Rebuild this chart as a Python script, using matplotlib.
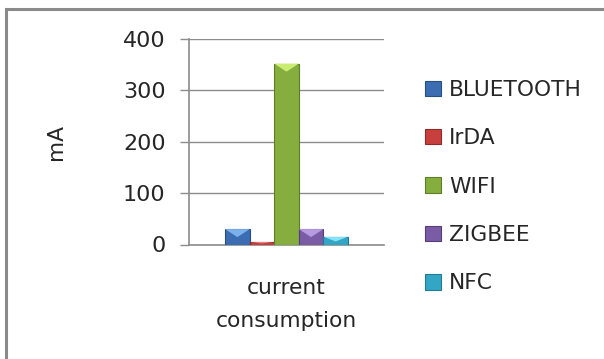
import matplotlib
matplotlib.use("Agg")
import matplotlib.pyplot as plt
from matplotlib.patches import Polygon, Rectangle

# ---- data ----
category = ["current\nconsumption"]
series = ["BLUETOOTH", "IrDA", "WIFI", "ZIGBEE", "NFC"]
values = [30, 5, 352, 30, 15]
y_ticks = [0, 100, 200, 300, 400]
y_label = "mA"

# ---- styles ----
main_colors = ["#3C6DB2", "#C8403D", "#86AE3E", "#7A5BA6", "#33A6C6"]
light_colors = ["#7DB1EC", "#F08080", "#C9EC72", "#B79BE2", "#86E2F7"]
edge_colors = ["#294E82", "#8E2A28", "#5E7F26", "#563D7A", "#217A93"]
text_color = "#262626"
grid_color = "#8C8C8C"
FS = 15.7

plt.rcParams["font.family"] = ["DejaVu Sans"]

fig = plt.figure(figsize=(6.04, 3.59), dpi=100)
W, H = 604, 359
L, R, T, B = 189, 384, 39, 244.5
ax = fig.add_axes([L / W, (H - B) / H, (R - L) / W, (B - T) / H])

bar_w = 0.126
n = len(series)
bars = []
for i, (name, v) in enumerate(zip(series, values)):
    off = (i - (n - 1) / 2) * bar_w
    b = ax.bar([0 + off], [v], width=bar_w, color=main_colors[i],
               edgecolor=edge_colors[i], linewidth=0.8, label=name, zorder=3)
    bars.append(b)

ax.set_xlim(-0.5, 0.5)
ax.set_ylim(0, 400)
ax.set_yticks(y_ticks)
ax.set_yticklabels([str(t) for t in y_ticks], fontsize=16, color=text_color)
ax.set_xticks([0])
ax.set_xticklabels(category, fontsize=FS, color=text_color, linespacing=1.8)
ax.tick_params(axis="x", length=0, pad=24)
ax.tick_params(axis="y", length=6.5, width=1, color=grid_color, pad=10.3)
ax.grid(axis="y", color=grid_color, linewidth=1, zorder=0)
for s in ["top", "right"]:
    ax.spines[s].set_visible(False)
for s in ["left", "bottom"]:
    ax.spines[s].set_color(grid_color)
    ax.spines[s].set_linewidth(1.2)
ax.set_ylabel(y_label, fontsize=FS, color=text_color, labelpad=0)
ax.yaxis.set_label_coords((66 - L) / (R - L), 0.5)

# bevel highlight at bar tops (derived from bar geometry)
px_per_unit = (B - T) / 400.0
depth = 8 / px_per_unit
for i, b in enumerate(bars):
    r = b.patches[0]
    x0, w, h = r.get_x(), r.get_width(), r.get_height()
    d = min(depth, h * 0.6)
    tri = Polygon([[x0, h], [x0 + w, h], [x0 + w / 2, h - d]], closed=True,
                  facecolor=light_colors[i], edgecolor="none", zorder=4)
    ax.add_patch(tri)

leg = ax.legend(loc="upper left", bbox_to_anchor=(425 / W, 1 - 80 / H),
                bbox_transform=fig.transFigure, frameon=False, fontsize=FS,
                handlelength=0.72, handleheight=0.72, handletextpad=0.38,
                labelspacing=1.30, borderaxespad=0, borderpad=0)
for t in leg.get_texts():
    t.set_color(text_color)

# outer chart frame
fig.patches.append(Rectangle((5.5 / W, -0.1), 1.2, 1 - 9 / H + 0.1,
                             transform=fig.transFigure, fill=False,
                             edgecolor="#8A8A8A", linewidth=2.2))

fig.savefig("out.png", dpi=100)
